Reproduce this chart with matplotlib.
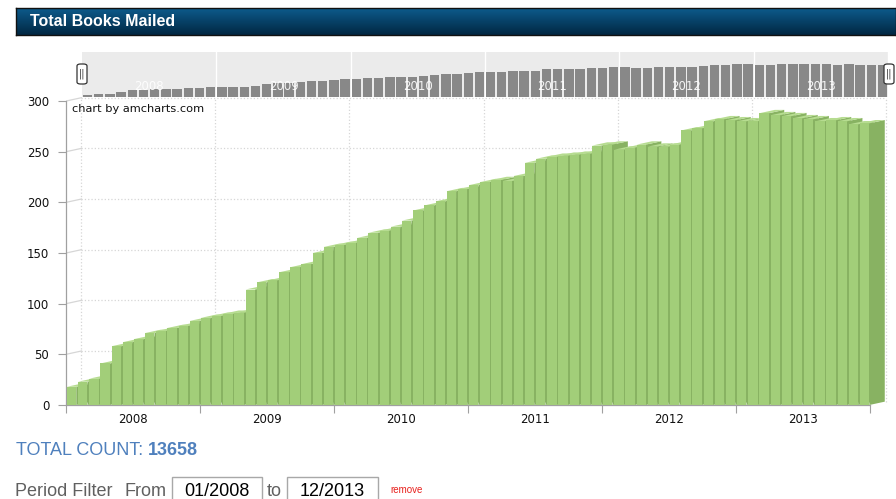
import numpy as np
import matplotlib.pyplot as plt
from matplotlib.patches import Polygon, Rectangle, FancyBboxPatch

# monthly books mailed, 01/2008 .. 12/2013
books = [18, 23, 26, 41, 58, 62, 65, 71, 73, 76, 78, 83,
         86, 88, 90, 91, 114, 121, 123, 131, 136, 139, 150, 156,
         158, 160, 165, 170, 172, 176, 182, 192, 197, 201, 211, 213,
         217, 220, 222, 221, 226, 239, 243, 245, 246, 247, 248, 256,
         257, 252, 254, 257, 255, 255, 257, 271, 273, 280, 282, 281,
         280, 280, 288, 286, 285, 283, 282, 280, 281, 280, 277, 278]
years = ['2008', '2009', '2010', '2011', '2012', '2013']
y_ticks = [0, 50, 100, 150, 200, 250, 300]

W, H = 896, 499
fig = plt.figure(figsize=(W / 100, H / 100), dpi=100)
fig.patch.set_facecolor('white')

def fx(px):
    return px / W

def fy(py):
    return 1 - py / H

n = len(books)
DX, DY = 1.38, 3.3      # 3d depth in data units
BW = 0.84               # column width
front_c, side_c, top_c = '#a2ce79', '#88b262', '#b6dc90'
grid_c = '#d6d6d6'
axis_c = '#a0a0a0'

# ---- main chart
ppm = 11.17
left_px, bot_px, top_px = 66, 405, 97
xmax = n - 0.5 + DX + 0.2
ax = fig.add_axes([fx(left_px), fy(bot_px), fx(ppm * (xmax + 0.5)), (bot_px - top_px) / H])
ax.set_xlim(-0.5, xmax)
ax.set_ylim(0, 304)
ax.patch.set_alpha(0)

bounds = np.arange(-0.5, n, 12)
for v in y_ticks[1:]:
    ax.plot([-0.5 + DX, n - 0.5 + DX], [v + DY, v + DY], ls=':', color=grid_c, lw=0.9, zorder=1)
    ax.plot([-0.5, -0.5 + DX], [v, v + DY], color=grid_c, lw=0.9, zorder=1)
for b in bounds:
    ax.plot([b + DX, b + DX], [DY, 300 + DY], ls=':', color=grid_c, lw=0.9, zorder=1)

for i, v in enumerate(books):
    x0, x1 = i - BW / 2, i + BW / 2
    z = 3 + i * 0.01
    ax.add_patch(Polygon([(x1, 0), (x1 + DX, DY), (x1 + DX, v + DY), (x1, v)],
                         closed=True, fc=side_c, ec='none', zorder=z))
    ax.add_patch(Polygon([(x0, v), (x1, v), (x1 + DX, v + DY), (x0 + DX, v + DY)],
                         closed=True, fc=top_c, ec='none', zorder=z))
    ax.add_patch(Rectangle((x0, 0), BW, v, fc=front_c, ec='none', zorder=z + 0.005))

for s in ['top', 'right']:
    ax.spines[s].set_visible(False)
ax.spines['left'].set_bounds(0, 300)
ax.spines['bottom'].set_bounds(-0.5, n - 0.5)
for s in ['left', 'bottom']:
    ax.spines[s].set_color(axis_c)
    ax.spines[s].set_linewidth(0.9)

ax.set_yticks(y_ticks)
ax.set_yticklabels([str(t) for t in y_ticks], fontsize=8.5, color='#111111')
ax.set_xticks(bounds)
ax.set_xticklabels([''] * len(bounds))
ax.set_xticks(np.arange(5.5, n, 12), minor=True)
ax.set_xticklabels(years, minor=True, fontsize=8.5, color='#111111')
ax.tick_params(axis='y', length=6, color=axis_c, pad=6)
ax.tick_params(axis='x', which='major', length=6, color=axis_c)
ax.tick_params(axis='x', which='minor', length=0, pad=6)
ax.text(0.0, 292, 'chart by amcharts.com', fontsize=8.2, color='#111111', va='center', zorder=10)

# ---- scrollbar
sc = fig.add_axes([fx(82), fy(97), fx(806), 45 / H])
sc.set_xlim(-0.5, n - 0.5)
sc.set_ylim(0, max(books) * 1.35)
sc.set_facecolor('#ebebeb')
for b in bounds[1:]:
    sc.axvline(b, color='white', lw=1, zorder=1)
sc.bar(range(n), books, width=0.84, color='#888888', zorder=2)
for k, yr in enumerate(years):
    sc.text(5.5 + 12 * k, 0.24, yr, transform=sc.get_xaxis_transform(), ha='center', va='center',
            fontsize=8.5, color='white', alpha=0.9, zorder=3)
sc.set_xticks([])
sc.set_yticks([])
for s in sc.spines.values():
    s.set_visible(False)

for gx in [82, 889]:
    fig.patches.append(FancyBboxPatch((fx(gx - 5), fy(84)), fx(10), 20 / H,
                                      boxstyle='round,pad=0,rounding_size=0.004',
                                      transform=fig.transFigure, fc='white', ec='#333333', lw=0.9, zorder=20))
    fig.text(fx(gx), fy(74), '||', ha='center', va='center', fontsize=7, color='#333333', zorder=21)

# ---- title bar
tb = fig.add_axes([fx(16), fy(35), 1 - fx(16), 27 / H])
grad = np.linspace(0, 1, 100).reshape(-1, 1)
top_rgb = np.array([0x0d, 0x5b, 0x8c]) / 255
bot_rgb = np.array([0x01, 0x27, 0x42]) / 255
img = top_rgb[None, None, :] * (1 - grad[:, :, None]) + bot_rgb[None, None, :] * grad[:, :, None]
tb.imshow(img, aspect='auto', extent=[0, 1, 0, 1])
tb.set_xticks([])
tb.set_yticks([])
for s in tb.spines.values():
    s.set_color('#111111')
    s.set_linewidth(1)
fig.text(fx(30), fy(21), 'Total Books Mailed', fontsize=11.5, fontweight='bold', color='white',
         va='center', family='Liberation Sans')

# ---- footer
blue = '#4f80bd'
fs = 13
fig.text(fx(16), fy(455), 'TOTAL COUNT:', fontsize=fs, color=blue, va='baseline', family='Liberation Sans')
fig.text(fx(148), fy(455), '13658', fontsize=fs, color=blue, fontweight='bold', va='baseline',
         family='Liberation Sans')

gray = '#606060'
fig.text(fx(15), fy(496), 'Period Filter', fontsize=fs, color=gray, va='baseline', family='Liberation Sans')
fig.text(fx(124), fy(496), 'From', fontsize=fs, color=gray, va='baseline', family='Liberation Sans')
fig.text(fx(267), fy(496), 'to', fontsize=fs, color=gray, va='baseline', family='Liberation Sans')
for bx0, bx1, label in [(172, 262, '01/2008'), (287, 378, '12/2013')]:
    fig.patches.append(Rectangle((fx(bx0), fy(502)), fx(bx1 - bx0), 25 / H, transform=fig.transFigure,
                                 fc='white', ec='#a8a8a8', lw=1))
    fig.text(fx((bx0 + bx1) / 2), fy(496), label, fontsize=fs, color='black', va='baseline', ha='center',
             family='Liberation Sans')
fig.text(fx(390), fy(493), 'remove', fontsize=7, color='#e8201c', va='baseline', family='Liberation Sans')

fig.savefig('out.png', dpi=100)
